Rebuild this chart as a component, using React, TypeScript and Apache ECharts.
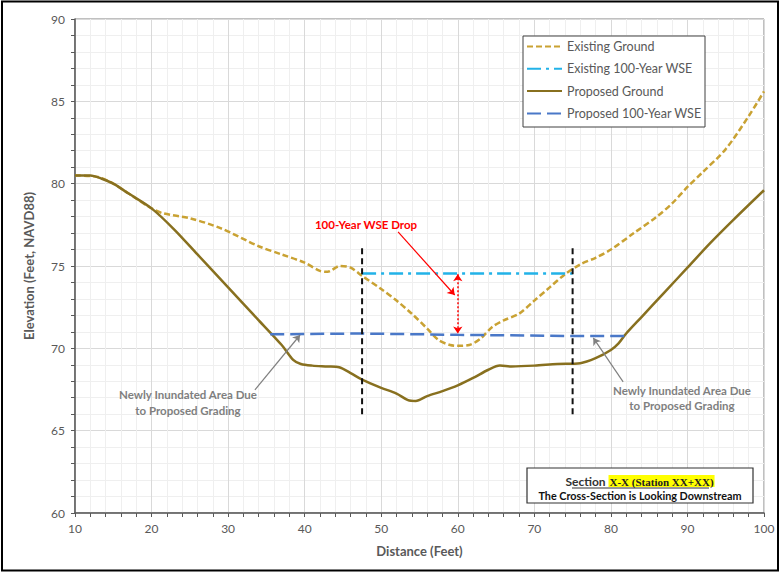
import React, { useEffect, useRef } from "react";
import * as echarts from "echarts";

// ---------- data ----------
const existingGround: [number, number][] = [
  [10, 80.5], [13, 80.4], [15, 80.0], [18, 79.1], [20, 78.5], [21.5, 78.2], [25, 77.9],
  [29, 77.3], [34, 76.2], [37, 75.7], [40, 75.2], [42, 74.7], [43, 74.65], [44.6, 75.0],
  [46, 74.9], [47.5, 74.4], [50, 73.6], [52, 72.9], [54, 72.1], [56, 71.2], [57.5, 70.5],
  [59, 70.2], [60, 70.15], [61.5, 70.2], [63, 70.6], [64.5, 71.3], [66, 71.7], [68, 72.1],
  [70, 72.9], [72, 73.7], [74, 74.5], [76, 75.1], [78, 75.5], [80, 76.0], [83, 77.0],
  [86, 78.0], [88, 78.8], [90, 79.8], [92, 80.7], [95, 82.1], [98, 84.1], [100, 85.6],
];
const proposedGround: [number, number][] = [
  [10, 80.5], [12, 80.5], [13.5, 80.3], [15, 80.0], [17, 79.4], [20, 78.5], [23, 77.2],
  [26, 75.7], [30, 73.7], [34, 71.7], [37, 70.2], [38.5, 69.3], [39.5, 69.05], [41, 68.95],
  [43, 68.9], [44.5, 68.85], [46, 68.5], [47.5, 68.1], [50, 67.6], [52, 67.25], [53.5, 66.85],
  [54.5, 66.8], [56, 67.1], [58, 67.4], [60, 67.75], [62, 68.2], [64, 68.7], [65.5, 68.95],
  [67, 68.9], [70, 68.95], [73, 69.05], [76, 69.1], [78, 69.4], [80, 69.9], [81, 70.3],
  [82, 70.9], [84, 71.9], [87, 73.4], [90, 74.9], [93, 76.4], [96, 77.8], [100, 79.6],
];
const existingWSE: [number, number][] = [[47.5, 74.55], [75, 74.55]];
const proposedWSE: [number, number][] = [
  [35.5, 70.85], [47.5, 70.9], [60, 70.82], [75, 70.75], [82.5, 70.75],
];
const sectionLineX = [47.5, 75];
const sectionLineY = [66, 76.1];
const wseDropArrow: [number, number][] = [[60, 74.5], [60, 70.9]];
const dropLabelArrow: [number, number][] = [[52.2, 77.07], [59.6, 73.24]];
const leftArrow: [number, number][] = [[33.5, 67.47], [39.4, 70.81]];
const rightArrow: [number, number][] = [[81.6, 67.96], [77.7, 70.63]];

const seriesNames = [
  "Existing Ground",
  "Existing 100-Year WSE",
  "Proposed Ground",
  "Proposed 100-Year WSE",
];

const FONT = "Lato, 'Noto Sans', sans-serif";

export default function App() {
  const ref = useRef<HTMLDivElement>(null);
  useEffect(() => {
    document.body.style.margin = "0";
    const chart = echarts.init(ref.current!, undefined, { renderer: "svg" });
    const arrowLine = (pts: [number, number][], color: string, type: any, width: number, both: boolean) => [
      {
        coord: pts[0],
        symbol: both ? "arrow" : "none",
        symbolSize: 7,
        lineStyle: { color, type, width },
      },
      { coord: pts[1], symbol: "arrow", symbolSize: 7 },
    ];
    chart.setOption({
      animation: false,
      textStyle: { fontFamily: FONT },
      grid: {
        left: 75, top: 19, right: 17, bottom: 61,
        show: true, borderColor: "#808080", borderWidth: 1,
      },
      legend: {
        data: seriesNames,
        orient: "vertical",
        left: 526, top: 40, padding: 0,
        itemWidth: 35, itemHeight: 12, itemGap: 9.3,
        itemStyle: { opacity: 0 },
        textStyle: { fontFamily: FONT, fontSize: 12.5, color: "#595959" },
        z: 10,
      },
      xAxis: {
        type: "value", min: 10, max: 100, interval: 10,
        name: "Distance (Feet)", nameLocation: "middle", nameGap: 31,
        nameTextStyle: { fontFamily: FONT, fontSize: 13, fontWeight: "bold", color: "#595959" },
        axisLine: { show: true, lineStyle: { color: "#595959", width: 1.5 } },
        axisTick: { show: true, length: 4, lineStyle: { color: "#595959" } },
        minorTick: { show: true, splitNumber: 5, length: 4, lineStyle: { color: "#595959" } },
        axisLabel: { fontFamily: FONT, fontSize: 12, color: "#595959", margin: 9 },
        splitLine: { show: true, lineStyle: { color: "#d9d9d9" } },
        minorSplitLine: { show: true, lineStyle: { color: "#efefef" } },
      },
      yAxis: {
        type: "value", min: 60, max: 90, interval: 5,
        name: "Elevation (Feet, NAVD88)", nameLocation: "middle", nameGap: 40,
        nameTextStyle: { fontFamily: FONT, fontSize: 13, fontWeight: "bold", color: "#595959" },
        axisLine: { show: true, lineStyle: { color: "#595959", width: 1.5 } },
        axisTick: { show: true, length: 4, lineStyle: { color: "#595959" } },
        minorTick: { show: true, splitNumber: 5, length: 4, lineStyle: { color: "#595959" } },
        axisLabel: { fontFamily: FONT, fontSize: 12, color: "#595959", margin: 10 },
        splitLine: { show: true, lineStyle: { color: "#d9d9d9" } },
        minorSplitLine: { show: true, lineStyle: { color: "#efefef" } },
      },
      series: [
        {
          name: seriesNames[0], type: "line", data: existingGround, smooth: 0.3, symbol: "none",
          lineStyle: { color: "#c9a233", width: 2.5, type: [6, 3] }, itemStyle: { color: "#c9a233" },
        },
        {
          name: seriesNames[1], type: "line", data: existingWSE, symbol: "none",
          lineStyle: { color: "#22b2e8", width: 2.5, type: [14, 5, 3, 5] }, itemStyle: { color: "#22b2e8" },
        },
        {
          name: seriesNames[2], type: "line", data: proposedGround, smooth: 0.3, symbol: "none",
          lineStyle: { color: "#88701f", width: 2.5 }, itemStyle: { color: "#88701f" },
        },
        {
          name: seriesNames[3], type: "line", data: proposedWSE, symbol: "none",
          lineStyle: { color: "#4a78c8", width: 2.5, type: [14, 6] }, itemStyle: { color: "#4a78c8" },
        },
        {
          name: "sec1", type: "line", symbol: "none",
          data: [[sectionLineX[0], sectionLineY[0]], [sectionLineX[0], sectionLineY[1]]],
          lineStyle: { color: "#111", width: 2, type: [6, 4] },
          markLine: {
            silent: true, animation: false, label: { show: false },
            data: [
              arrowLine(dropLabelArrow, "#ff0000", "solid", 1.2, false),
              arrowLine(wseDropArrow, "#ff0000", [2, 2], 1.5, true),
              arrowLine(leftArrow, "#808080", "solid", 1.2, false),
              arrowLine(rightArrow, "#808080", "solid", 1.2, false),
            ],
          },
        },
        {
          name: "sec2", type: "line", symbol: "none",
          data: [[sectionLineX[1], sectionLineY[0]], [sectionLineX[1], sectionLineY[1]]],
          lineStyle: { color: "#111", width: 2, type: [6, 4] },
        },
      ],
      graphic: [
        {
          type: "rect", z: 20, silent: true,
          shape: { x: 2, y: 1.5, width: 776, height: 569 },
          style: { fill: "none", stroke: "#000", lineWidth: 2 },
        },
        {
          type: "rect", z: 3, silent: true,
          shape: { x: 523, y: 36, width: 182, height: 91 },
          style: { fill: "#fff", stroke: "#404040", lineWidth: 1 },
        },
        {
          type: "rect", z: 3, silent: true,
          shape: { x: 527, y: 468, width: 226, height: 35 },
          style: { fill: "#fff", stroke: "#333", lineWidth: 1.2 },
        },
        {
          type: "text", z: 21, x: 640, y: 481,
          style: {
            text: "{s|Section }{h|X-X (Station XX+XX)}",
            align: "center", verticalAlign: "middle",
            rich: {
              s: { fontFamily: FONT, fontSize: 12, fontWeight: "bold", fill: "#333" },
              h: { fontFamily: "'Liberation Serif', serif", fontSize: 11, fontWeight: "bold", fill: "#222", backgroundColor: "#ffff00", padding: [1, 1, 0, 1] },
            },
          },
        },
        {
          type: "line", z: 21,
          shape: { x1: 572, y1: 488, x2: 709, y2: 488 },
          style: { stroke: "#333", lineWidth: 1 },
        },
        {
          type: "text", z: 21, x: 640, y: 495,
          style: {
            text: "The Cross-Section is Looking Downstream",
            font: `bold 10.8px ${FONT}`, fill: "#111",
            align: "center", verticalAlign: "middle",
          },
        },
        {
          type: "text", z: 21, x: 366, y: 224,
          style: {
            text: "100-Year WSE Drop",
            font: `bold 11.5px ${FONT}`, fill: "#ff0000",
            align: "center", verticalAlign: "middle",
          },
        },
        {
          type: "text", z: 21, x: 188, y: 402,
          style: {
            text: "Newly Inundated Area Due\nto Proposed Grading",
            font: `bold 11.5px ${FONT}`, fill: "#7f7f7f", lineHeight: 16,
            align: "center", verticalAlign: "middle",
          },
        },
        {
          type: "text", z: 21, x: 682, y: 398,
          style: {
            text: "Newly Inundated Area Due\nto Proposed Grading",
            font: `bold 11.5px ${FONT}`, fill: "#7f7f7f", lineHeight: 15,
            align: "center", verticalAlign: "middle",
          },
        },
      ],
    });
    return () => chart.dispose();
  }, []);
  return (
    <div
      ref={ref}
      style={{ position: "absolute", left: 0, top: 0, width: 781, height: 574, background: "#fff" }}
    />
  );
}
